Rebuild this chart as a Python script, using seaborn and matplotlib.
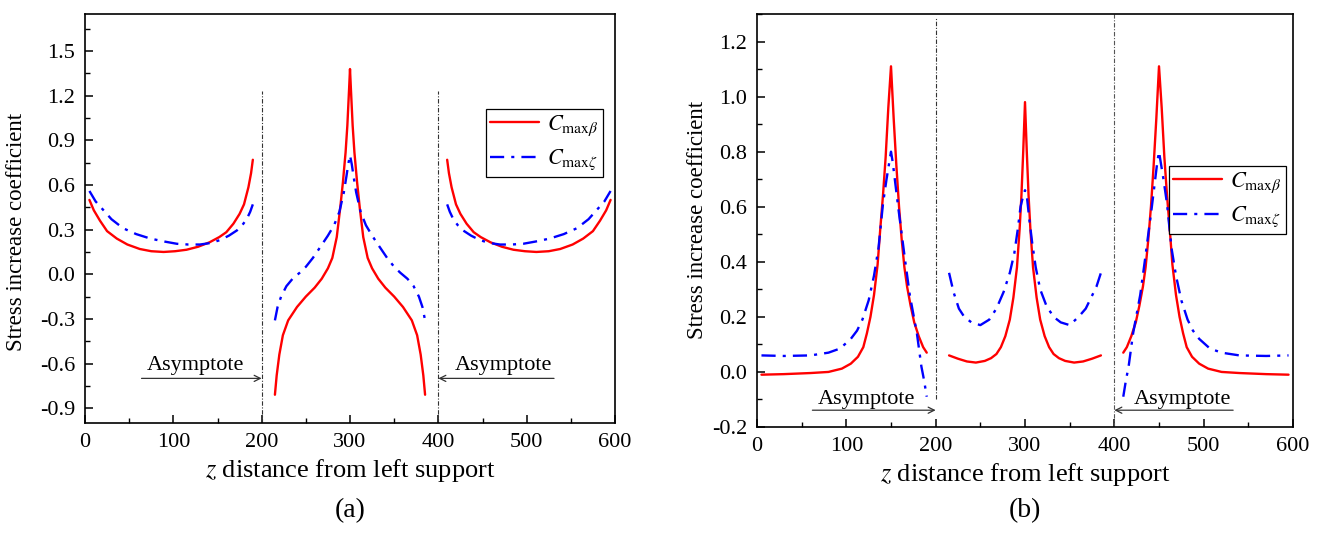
import matplotlib
matplotlib.use("Agg")
import matplotlib.pyplot as plt
from matplotlib.lines import Line2D
from matplotlib.ticker import MultipleLocator
import seaborn as sns
import pandas as pd

# ---------------- data: panel (a) ----------------
A_beta1_z = [5, 10, 17, 25, 36, 48, 62, 75, 89, 102, 115, 128, 141, 152, 160, 168, 175, 180, 185, 188, 190]
A_beta1 = [0.50, 0.43, 0.36, 0.29, 0.24, 0.20, 0.17, 0.155, 0.15, 0.155, 0.165, 0.185, 0.215, 0.25, 0.283, 0.34, 0.406, 0.47, 0.585, 0.68, 0.77]
A_zeta1_z = [5, 12, 21, 30, 43, 58, 74, 90, 104, 117, 130, 142, 153, 163, 172, 178, 183, 187, 190]
A_zeta1 = [0.56, 0.49, 0.43, 0.37, 0.31, 0.27, 0.24, 0.22, 0.205, 0.20, 0.20, 0.21, 0.23, 0.26, 0.295, 0.33, 0.37, 0.42, 0.47]

A_beta2_z = [215, 217, 220, 224, 230, 240, 250, 260, 268, 275, 280, 285, 289, 292, 295, 297, 299, 300, 301, 303,
             305, 308, 311, 315, 320, 325, 332, 340, 350, 360, 370, 376, 380, 383, 385]
A_beta2 = [-0.81, -0.68, -0.54, -0.41, -0.31, -0.22, -0.15, -0.09, -0.03, 0.04, 0.11, 0.25, 0.45, 0.62, 0.82, 1.00, 1.25, 1.38, 1.25, 1.00,
           0.82, 0.62, 0.45, 0.25, 0.11, 0.04, -0.03, -0.09, -0.15, -0.22, -0.31, -0.41, -0.54, -0.68, -0.81]
A_zeta2_z = [215, 218, 222, 228, 235, 243, 250, 258, 266, 275, 282, 288, 293, 296, 298, 300, 302, 304, 307, 312,
             318, 325, 334, 342, 350, 357, 365, 372, 378, 382, 385]
A_zeta2 = [-0.31, -0.22, -0.15, -0.08, -0.03, 0.01, 0.05, 0.11, 0.18, 0.26, 0.33, 0.42, 0.55, 0.66, 0.74, 0.80, 0.74, 0.66, 0.55, 0.42,
           0.33, 0.26, 0.18, 0.11, 0.05, 0.01, -0.03, -0.08, -0.15, -0.22, -0.31]

A_beta3_z = [410, 412, 415, 420, 425, 432, 440, 448, 459, 472, 485, 498, 511, 525, 538, 552, 564, 575, 583, 590, 595]
A_beta3 = [0.77, 0.68, 0.585, 0.47, 0.406, 0.34, 0.283, 0.25, 0.215, 0.185, 0.165, 0.155, 0.15, 0.155, 0.17, 0.20, 0.24, 0.29, 0.36, 0.43, 0.50]
A_zeta3_z = [410, 413, 417, 422, 428, 437, 447, 458, 470, 483, 496, 510, 526, 542, 557, 570, 579, 588, 595]
A_zeta3 = [0.47, 0.42, 0.37, 0.33, 0.295, 0.26, 0.23, 0.21, 0.20, 0.20, 0.205, 0.22, 0.24, 0.27, 0.31, 0.37, 0.43, 0.49, 0.56]

# ---------------- data: panel (b) ----------------
B_beta1_z = [5, 30, 60, 80, 95, 105, 113, 119, 123, 127, 131, 135, 138, 141, 144, 147, 150, 153, 156, 159,
             162, 165, 168, 172, 176, 181, 186, 190]
B_beta1 = [-0.01, -0.008, -0.004, 0.0, 0.012, 0.03, 0.055, 0.09, 0.14, 0.20, 0.28, 0.39, 0.52, 0.64, 0.78, 0.96, 1.11, 0.92, 0.75, 0.60,
           0.48, 0.38, 0.31, 0.24, 0.18, 0.13, 0.09, 0.07]
B_zeta1_z = [5, 30, 60, 80, 93, 105, 112, 118, 125, 131, 136, 141, 145, 148, 150, 152, 155, 158, 162, 166,
             171, 175, 179, 184, 187, 190]
B_zeta1 = [0.06, 0.058, 0.06, 0.07, 0.085, 0.12, 0.15, 0.19, 0.26, 0.35, 0.45, 0.61, 0.70, 0.76, 0.80, 0.76, 0.68, 0.60, 0.50, 0.40,
           0.28, 0.21, 0.14, 0.02, -0.03, -0.09]

B_beta2_z = [215, 225, 235, 245, 255, 262, 268, 273, 278, 283, 287, 291, 294, 296, 298, 300, 302, 304, 306, 309,
             313, 317, 322, 327, 332, 338, 345, 355, 365, 375, 385]
B_beta2 = [0.06, 0.048, 0.038, 0.034, 0.04, 0.05, 0.065, 0.09, 0.13, 0.19, 0.27, 0.38, 0.52, 0.64, 0.80, 0.98, 0.80, 0.64, 0.52, 0.38,
           0.27, 0.19, 0.13, 0.09, 0.065, 0.05, 0.04, 0.034, 0.038, 0.048, 0.06]
B_zeta2_z = [215, 220, 226, 232, 240, 250, 260, 268, 276, 283, 288, 292, 295, 298, 300, 302, 305, 308, 312, 317,
             324, 332, 340, 350, 360, 368, 374, 380, 385]
B_zeta2 = [0.36, 0.29, 0.23, 0.20, 0.18, 0.17, 0.19, 0.23, 0.29, 0.36, 0.43, 0.52, 0.60, 0.64, 0.66, 0.64, 0.55, 0.47, 0.38, 0.30,
           0.24, 0.20, 0.18, 0.17, 0.20, 0.23, 0.27, 0.31, 0.36]

B_beta3_z = [410, 414, 419, 424, 428, 432, 435, 438, 441, 444, 447, 450, 453, 456, 459, 462, 465, 469, 473, 477,
             481, 487, 495, 505, 520, 540, 570, 595]
B_beta3 = [0.07, 0.09, 0.13, 0.18, 0.24, 0.31, 0.38, 0.48, 0.60, 0.75, 0.92, 1.11, 0.96, 0.78, 0.64, 0.52, 0.39, 0.28, 0.20, 0.14,
           0.09, 0.055, 0.03, 0.012, 0.0, -0.004, -0.008, -0.01]
B_zeta3_z = [410, 413, 416, 421, 425, 429, 434, 438, 442, 445, 448, 450, 452, 455, 459, 464, 469, 475, 482, 488,
             495, 507, 520, 540, 570, 595]
B_zeta3 = [-0.09, -0.03, 0.02, 0.14, 0.21, 0.28, 0.40, 0.50, 0.60, 0.68, 0.76, 0.80, 0.76, 0.70, 0.61, 0.45, 0.35, 0.26, 0.19, 0.15,
           0.12, 0.085, 0.07, 0.06, 0.058, 0.06]

SERIES = ["beta", "zeta"]
LABELS = [r"$C_{\mathrm{max}\beta}$", r"$C_{\mathrm{max}\zeta}$"]
X_TICKS = [0, 100, 200, 300, 400, 500, 600]
A_YTICKS = [-0.9, -0.6, -0.3, 0.0, 0.3, 0.6, 0.9, 1.2, 1.5]
B_YTICKS = [-0.2, 0.0, 0.2, 0.4, 0.6, 0.8, 1.0, 1.2]
ASYMPTOTES = [200, 400]
XLABEL = "$z$ distance from left support"
YLABEL = "Stress increase coefficient"
ANNOT = "Asymptote"


def make_df(segs):
    rows = []
    for name, seg, zs, vs in segs:
        for z, v in zip(zs, vs):
            rows.append({"series": name, "seg": seg, "z": z, "v": v})
    return pd.DataFrame(rows)


df_a = make_df([
    ("beta", 1, A_beta1_z, A_beta1), ("beta", 2, A_beta2_z, A_beta2), ("beta", 3, A_beta3_z, A_beta3),
    ("zeta", 1, A_zeta1_z, A_zeta1), ("zeta", 2, A_zeta2_z, A_zeta2), ("zeta", 3, A_zeta3_z, A_zeta3),
])
df_b = make_df([
    ("beta", 1, B_beta1_z, B_beta1), ("beta", 2, B_beta2_z, B_beta2), ("beta", 3, B_beta3_z, B_beta3),
    ("zeta", 1, B_zeta1_z, B_zeta1), ("zeta", 2, B_zeta2_z, B_zeta2), ("zeta", 3, B_zeta3_z, B_zeta3),
])

sns.set_theme(style="ticks")
plt.rcParams["font.family"] = ["Liberation Serif", "DejaVu Serif"]
plt.rcParams["mathtext.fontset"] = "stix"
plt.rcParams["axes.linewidth"] = 1.2
plt.rcParams["xtick.direction"] = "in"
plt.rcParams["ytick.direction"] = "in"
for key in ["text.color", "axes.labelcolor", "xtick.color", "ytick.color", "axes.edgecolor"]:
    plt.rcParams[key] = "black"

RED = "#ff0000"
BLUE = "#0000ff"
palette = {"beta": RED, "zeta": BLUE}
dash_zeta = (6, 3, 1.3, 3)
dashes = {"beta": "", "zeta": dash_zeta}
FS = 16

fig = plt.figure(figsize=(13.24, 5.43), dpi=100)
ax_a = fig.add_axes([85 / 1324, 1 - 423 / 543, 530 / 1324, 409 / 543])
ax_b = fig.add_axes([757 / 1324, 1 - 427 / 543, 536 / 1324, 413 / 543])

for ax, df in [(ax_a, df_a), (ax_b, df_b)]:
    sns.lineplot(data=df, x="z", y="v", hue="series", style="series", units="seg",
                 estimator=None, sort=False, palette=palette, dashes=dashes,
                 linewidth=1.7, legend=False, ax=ax)
    ax.set_xlim(0, 600)
    ax.set_xticks(X_TICKS)
    ax.xaxis.set_minor_locator(MultipleLocator(50))
    ax.tick_params(which="major", length=6, width=1.1, labelsize=FS, pad=7,
                   top=False, right=False)
    ax.tick_params(which="minor", length=3.5, width=1.0, top=False, right=False)
    ax.set_xlabel(XLABEL, fontsize=19, labelpad=3.5)
    ax.set_ylabel(YLABEL, fontsize=16.5)
    for sp in ax.spines.values():
        sp.set_visible(True)
        sp.set_color("black")

# panel (a) axes
ax_a.set_ylim(-1.0, 1.75)
ax_a.set_yticks(A_YTICKS)
ax_a.set_yticklabels([f"{t:.1f}" for t in A_YTICKS])
ax_a.yaxis.set_minor_locator(MultipleLocator(0.15))
ax_a.yaxis.set_label_coords(-0.109, 0.466)
for xa in ASYMPTOTES:
    ax_a.axvline(xa, ymin=0, ymax=(1.23 + 1.0) / 2.75, color="#333333", lw=0.8,
                 ls=(0, (4, 1.5, 1, 1.5)))

# panel (b) axes
ax_b.set_ylim(-0.2, 1.3)
ax_b.set_yticks(B_YTICKS)
ax_b.set_yticklabels([f"{t:.1f}" for t in B_YTICKS])
ax_b.yaxis.set_minor_locator(MultipleLocator(0.1))
ax_b.yaxis.set_label_coords(-0.0914, 0.501)
ax_b.axvline(200, ymin=(-0.10 + 0.2) / 1.5, ymax=(1.285 + 0.2) / 1.5, color="#333333", lw=0.8,
             ls=(0, (4, 1.5, 1, 1.5)))
ax_b.axvline(400, ymin=0, ymax=1, color="#555555", lw=0.8, ls=(0, (4, 1.5, 1, 1.5)))

# annotations
arrow_kw = dict(arrowstyle="->", color="#333333", lw=0.9, mutation_scale=11,
                shrinkA=0, shrinkB=0)
ax_a.annotate("", xy=(200, -0.70), xytext=(64, -0.70), arrowprops=arrow_kw)
ax_a.text(125, -0.643, ANNOT, ha="center", va="baseline", fontsize=FS)
ax_a.annotate("", xy=(400, -0.70), xytext=(531, -0.70), arrowprops=arrow_kw)
ax_a.text(474, -0.643, ANNOT, ha="center", va="baseline", fontsize=FS)

ax_b.annotate("", xy=(200, -0.139), xytext=(62, -0.139), arrowprops=arrow_kw)
ax_b.text(122, -0.118, ANNOT, ha="center", va="baseline", fontsize=FS)
ax_b.annotate("", xy=(400, -0.139), xytext=(533, -0.139), arrowprops=arrow_kw)
ax_b.text(476, -0.118, ANNOT, ha="center", va="baseline", fontsize=FS)

# legends
handles = [Line2D([], [], color=RED, lw=1.7),
           Line2D([], [], color=BLUE, lw=1.7, dashes=dash_zeta)]
for ax, anchor in [(ax_a, (0.977, 0.768)), (ax_b, (0.987, 0.632))]:
    leg = ax.legend(handles, LABELS, loc="upper right", bbox_to_anchor=anchor,
                    fontsize=FS, frameon=True, fancybox=False, framealpha=1,
                    edgecolor="black", handlelength=2.2, handletextpad=0.35,
                    borderpad=0.2, labelspacing=0.45, borderaxespad=0)
    leg.get_frame().set_linewidth(0.9)

fig.text(350 / 1324, 1 - 511 / 543, "(a)", ha="center", va="center", fontsize=20)
fig.text(1025 / 1324, 1 - 511 / 543, "(b)", ha="center", va="center", fontsize=20)

fig.savefig("out.png", dpi=100)
